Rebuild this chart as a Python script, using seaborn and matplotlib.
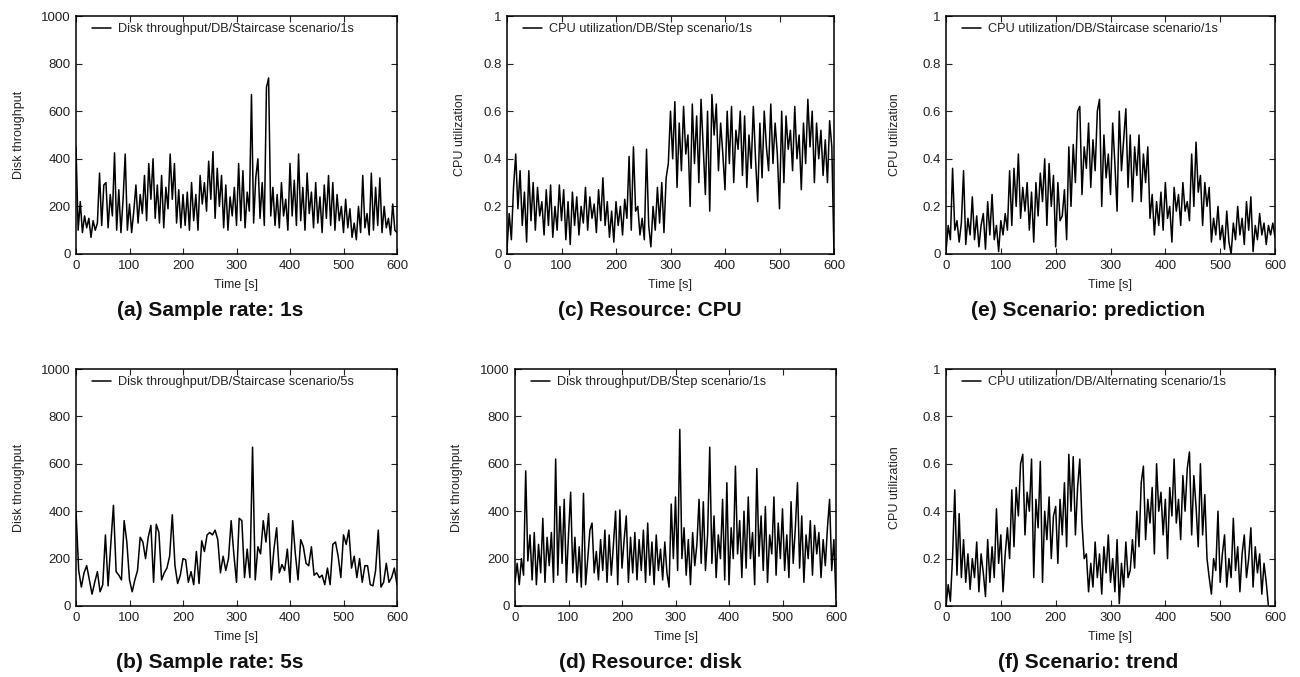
import numpy as np
import pandas as pd
import seaborn as sns
import matplotlib
matplotlib.use("Agg")
import matplotlib.pyplot as plt
from matplotlib.ticker import FuncFormatter

# ---- data (1s series kept every 4 s) ----
disk_staircase_1s = [
    450, 100, 220, 90, 160, 110, 150, 70, 140, 100, 130, 340, 120, 290, 300, 110,
    250, 160, 425, 100, 270, 90, 230, 420, 100, 210, 90, 180, 290, 130, 250, 170,
    330, 140, 380, 230, 400, 150, 290, 130, 330, 110, 280, 190, 420, 230, 380, 130,
    270, 110, 250, 120, 260, 100, 300, 140, 250, 100, 330, 210, 300, 180, 390, 230,
    430, 150, 360, 200, 330, 110, 290, 100, 240, 160, 280, 120, 380, 140, 350, 110,
    260, 180, 670, 130, 320, 400, 150, 300, 120, 700, 740, 160, 280, 120, 250, 110,
    300, 160, 230, 100, 380, 160, 310, 120, 420, 140, 280, 100, 340, 170, 260, 110,
    300, 130, 240, 90, 290, 150, 330, 120, 300, 100, 250, 140, 200, 90, 230, 110,
    190, 70, 130, 60, 200, 90, 330, 110, 170, 80, 340, 100, 280, 120, 320, 90,
    200, 110, 150, 80, 210, 100, 90]

disk_staircase_5s = [
    400, 150, 80, 140, 170, 110, 50, 100, 145, 60, 90, 300, 85, 260, 425, 145,
    130, 110, 360, 270, 110, 60, 110, 150, 290, 270, 200, 290, 340, 100, 345, 310,
    110, 140, 160, 210, 385, 170, 95, 130, 200, 195, 100, 145, 90, 230, 95, 275,
    230, 300, 310, 300, 320, 280, 140, 210, 150, 200, 360, 220, 100, 370, 360, 120,
    240, 120, 670, 110, 250, 220, 360, 270, 390, 110, 240, 330, 140, 175, 150, 240,
    100, 360, 220, 110, 280, 250, 180, 170, 250, 130, 140, 120, 130, 90, 160, 90,
    260, 270, 210, 120, 300, 260, 320, 160, 210, 120, 200, 100, 170, 170, 90, 85,
    150, 320, 80, 100, 180, 100, 120, 160, 90]

cpu_step_1s = [
    0.02, 0.17, 0.06, 0.28, 0.42, 0.19, 0.35, 0.12, 0.26, 0.05, 0.35, 0.14, 0.30, 0.10, 0.28, 0.16,
    0.22, 0.08, 0.27, 0.12, 0.29, 0.07, 0.20, 0.10, 0.29, 0.14, 0.27, 0.06, 0.22, 0.04, 0.26, 0.12,
    0.24, 0.08, 0.20, 0.13, 0.28, 0.10, 0.24, 0.15, 0.21, 0.09, 0.27, 0.14, 0.32, 0.12, 0.22, 0.07,
    0.18, 0.05, 0.22, 0.12, 0.20, 0.08, 0.23, 0.15, 0.41, 0.10, 0.45, 0.18, 0.20, 0.08, 0.15, 0.06,
    0.44, 0.12, 0.03, 0.20, 0.10, 0.28, 0.13, 0.30, 0.09, 0.32, 0.38, 0.60, 0.40, 0.64, 0.28, 0.55,
    0.35, 0.62, 0.42, 0.50, 0.20, 0.63, 0.38, 0.58, 0.30, 0.65, 0.45, 0.25, 0.60, 0.18, 0.67, 0.50,
    0.63, 0.35, 0.55, 0.42, 0.27, 0.60, 0.38, 0.62, 0.30, 0.52, 0.44, 0.60, 0.33, 0.58, 0.28, 0.50,
    0.36, 0.62, 0.40, 0.22, 0.55, 0.32, 0.60, 0.45, 0.35, 0.63, 0.38, 0.55, 0.42, 0.19, 0.60, 0.30,
    0.58, 0.44, 0.52, 0.35, 0.62, 0.40, 0.50, 0.27, 0.55, 0.38, 0.65, 0.45, 0.60, 0.30, 0.55, 0.40,
    0.52, 0.33, 0.48, 0.30, 0.56, 0.45, 0.0]

disk_step_1s = [
    100, 180, 90, 200, 130, 570, 190, 300, 110, 310, 90, 260, 140, 370, 100, 290,
    170, 310, 100, 620, 130, 420, 180, 450, 100, 300, 480, 140, 290, 100, 250, 80,
    475, 90, 200, 320, 350, 140, 230, 110, 280, 150, 320, 100, 300, 130, 260, 400,
    90, 405, 160, 280, 380, 100, 290, 140, 310, 110, 280, 150, 320, 100, 350, 130,
    270, 90, 300, 150, 240, 110, 270, 140, 80, 430, 200, 460, 150, 745, 200, 330,
    130, 280, 90, 310, 170, 260, 450, 180, 440, 150, 300, 670, 180, 380, 120, 300,
    200, 450, 110, 520, 90, 330, 200, 590, 220, 360, 120, 400, 160, 460, 200, 310,
    90, 580, 210, 380, 150, 420, 100, 300, 220, 460, 130, 350, 200, 410, 150, 300,
    120, 440, 180, 330, 520, 160, 380, 100, 300, 200, 360, 130, 340, 220, 310, 120,
    280, 170, 330, 450, 150, 280, 30]

cpu_staircase_1s = [
    0.01, 0.12, 0.06, 0.36, 0.10, 0.14, 0.05, 0.13, 0.35, 0.04, 0.15, 0.08, 0.24, 0.06, 0.16, 0.03,
    0.12, 0.17, 0.02, 0.22, 0.08, 0.25, 0.06, 0.12, 0.01, 0.14, 0.08, 0.17, 0.10, 0.35, 0.12, 0.36,
    0.20, 0.42, 0.15, 0.28, 0.18, 0.30, 0.10, 0.26, 0.05, 0.30, 0.16, 0.34, 0.22, 0.40, 0.12, 0.38,
    0.20, 0.33, 0.03, 0.30, 0.14, 0.16, 0.27, 0.06, 0.45, 0.20, 0.46, 0.30, 0.60, 0.62, 0.25, 0.45,
    0.36, 0.55, 0.28, 0.48, 0.35, 0.60, 0.65, 0.20, 0.50, 0.32, 0.42, 0.25, 0.55, 0.38, 0.18, 0.60,
    0.35, 0.48, 0.61, 0.28, 0.50, 0.22, 0.45, 0.33, 0.50, 0.22, 0.42, 0.30, 0.45, 0.15, 0.25, 0.08,
    0.22, 0.12, 0.26, 0.10, 0.30, 0.15, 0.20, 0.05, 0.28, 0.18, 0.25, 0.12, 0.30, 0.18, 0.22, 0.14,
    0.42, 0.20, 0.47, 0.26, 0.33, 0.12, 0.30, 0.20, 0.28, 0.05, 0.15, 0.08, 0.20, 0.06, 0.12, 0.02,
    0.18, 0.05, 0.00, 0.13, 0.06, 0.20, 0.08, 0.15, 0.04, 0.22, 0.10, 0.24, 0.01, 0.12, 0.06, 0.17,
    0.08, 0.13, 0.04, 0.12, 0.08, 0.13, 0.07]

cpu_alternating_1s = [
    0.00, 0.09, 0.02, 0.21, 0.49, 0.13, 0.39, 0.12, 0.28, 0.10, 0.22, 0.07, 0.20, 0.12, 0.27, 0.06,
    0.22, 0.14, 0.04, 0.28, 0.10, 0.25, 0.12, 0.41, 0.18, 0.30, 0.06, 0.22, 0.33, 0.20, 0.49, 0.25,
    0.50, 0.38, 0.60, 0.64, 0.30, 0.48, 0.40, 0.62, 0.12, 0.45, 0.33, 0.61, 0.10, 0.40, 0.28, 0.46,
    0.20, 0.38, 0.42, 0.18, 0.45, 0.30, 0.52, 0.25, 0.64, 0.40, 0.63, 0.30, 0.50, 0.62, 0.35, 0.20,
    0.22, 0.06, 0.18, 0.08, 0.27, 0.12, 0.22, 0.05, 0.25, 0.14, 0.30, 0.10, 0.20, 0.06, 0.28, 0.01,
    0.18, 0.08, 0.27, 0.12, 0.15, 0.28, 0.16, 0.40, 0.25, 0.52, 0.59, 0.28, 0.45, 0.35, 0.50, 0.22,
    0.60, 0.40, 0.48, 0.30, 0.45, 0.20, 0.50, 0.38, 0.62, 0.35, 0.45, 0.28, 0.55, 0.40, 0.58, 0.65,
    0.30, 0.55, 0.42, 0.25, 0.60, 0.30, 0.47, 0.20, 0.12, 0.05, 0.20, 0.15, 0.40, 0.10, 0.22, 0.30,
    0.08, 0.20, 0.12, 0.37, 0.15, 0.25, 0.06, 0.22, 0.30, 0.12, 0.20, 0.33, 0.08, 0.25, 0.14, 0.22,
    0.05, 0.18, 0.10, 0.00]

# (series, step [s], legend, y label, ymax, caption)
panels = [
    (disk_staircase_1s, 4, "Disk throughput/DB/Staircase scenario/1s", "Disk throughput", 1000, "(a) Sample rate: 1s"),
    (cpu_step_1s, 4, "CPU utilization/DB/Step scenario/1s", "CPU utilization", 1, "(c) Resource: CPU"),
    (cpu_staircase_1s, 4, "CPU utilization/DB/Staircase scenario/1s", "CPU utilization", 1, "(e) Scenario: prediction"),
    (disk_staircase_5s, 5, "Disk throughput/DB/Staircase scenario/5s", "Disk throughput", 1000, "(b) Sample rate: 5s"),
    (disk_step_1s, 4, "Disk throughput/DB/Step scenario/1s", "Disk throughput", 1000, "(d) Resource: disk"),
    (cpu_alternating_1s, 4, "CPU utilization/DB/Alternating scenario/1s", "CPU utilization", 1, "(f) Scenario: trend"),
]

# axes boxes in pixels: left, right, top, bottom
boxes = [(76, 397, 16, 254), (507, 834, 16, 254), (946, 1275, 16, 254),
         (76, 397, 369, 606), (515, 836, 369, 606), (946, 1275, 369, 606)]
ylab_x = [17, 458, 893, 17, 455, 893]
cap_x = [210, 650, 1088, 210, 650, 1088]

sns.set_theme(style="ticks")
plt.rcParams['font.family'] = ['Liberation Sans', 'DejaVu Sans']

W, H = 1300, 677
fig = plt.figure(figsize=(13, 6.77), dpi=100)

for i, (vals, step, leg, ylab, ymax, cap) in enumerate(panels):
    l, r, t, b = boxes[i]
    ax = fig.add_axes([l / W, 1 - b / H, (r - l) / W, (b - t) / H])
    df = pd.DataFrame({'t': np.arange(len(vals)) * step, 'v': vals})
    sns.lineplot(data=df, x='t', y='v', ax=ax, color='black', linewidth=1.1, label=leg)
    ax.set_xlim(0, 600)
    ax.set_ylim(0, ymax)
    ax.set_xticks([0, 100, 200, 300, 400, 500, 600])
    ax.set_yticks(np.linspace(0, ymax, 6))
    ax.yaxis.set_major_formatter(FuncFormatter(lambda v, p: f'{v:g}'))
    ax.tick_params(direction='in', top=True, right=True, length=4, width=0.8,
                   labelsize=9.5, colors='#222222', pad=4)
    for s in ax.spines.values():
        s.set_linewidth(1.1)
        s.set_color('black')
    ax.set_xlabel('Time [s]', fontsize=9, color='#222222')
    ax.set_ylabel(ylab, fontsize=9, color='#222222')
    ax.xaxis.set_label_coords(0.5, -25 / (b - t))
    ax.yaxis.set_label_coords((ylab_x[i] + 8 - l) / (r - l), 0.5)
    ax.legend(loc='upper left', bbox_to_anchor=(11 / (r - l), 1 - 2 / (b - t)),
              frameon=False, fontsize=9.2, handlelength=1.5,
              handletextpad=0.55, borderaxespad=0, labelcolor='#222222')
    fig.text(cap_x[i] / W, 1 - (b + 57) / H, cap, ha='center', va='center',
             fontsize=15, fontweight='bold', color='#111111')

fig.savefig('out.png', dpi=100)
